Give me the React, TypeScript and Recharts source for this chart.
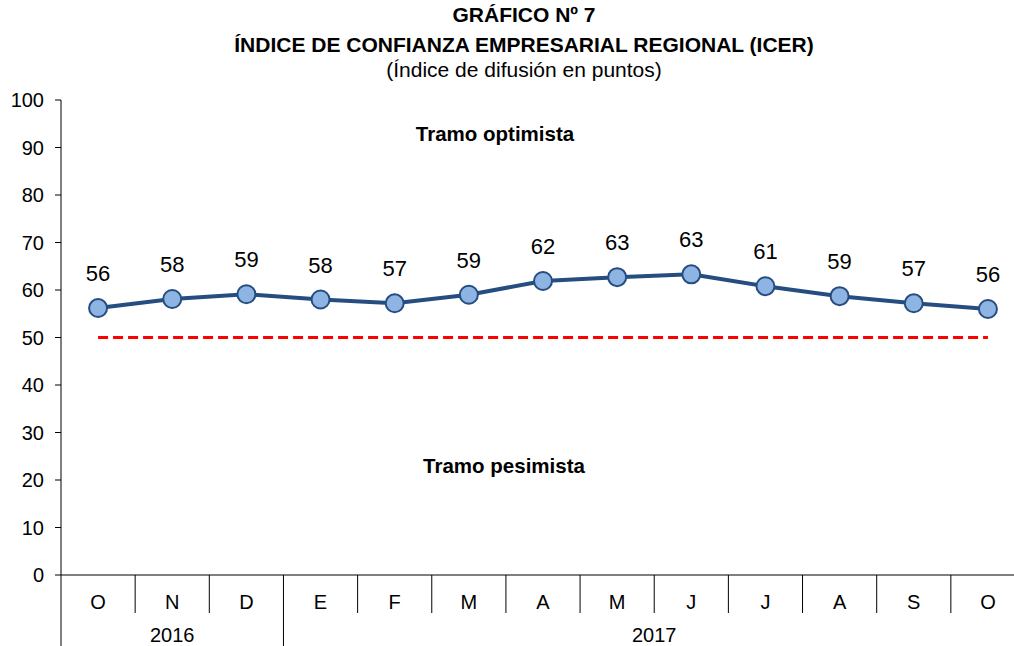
import { LabelList, Line, LineChart, XAxis, YAxis } from 'recharts';

const months = ['O', 'N', 'D', 'E', 'F', 'M', 'A', 'M', 'J', 'J', 'A', 'S', 'O'];
const icerValues = [56.2, 58.1, 59.1, 58.0, 57.2, 59.0, 61.9, 62.7, 63.3, 60.8, 58.7, 57.2, 56.0];
const thresholdValues = [50, 50, 50, 50, 50, 50, 50, 50, 50, 50, 50, 50, 50];
const yTicks = [0, 10, 20, 30, 40, 50, 60, 70, 80, 90, 100];
const years = [
    { label: '2016', start: 0, end: 2 },
    { label: '2017', start: 3, end: 12 },
];

const chartProps = {
    width: 1026,
    height: 646,
    margin: { top: 100, right: 1, left: 0, bottom: 0 },
    yAxisWidth: 61,
    xAxisHeight: 71,
    font: '"Liberation Sans", Arial, sans-serif',
    lineStroke: '#264D80',
    dotFill: '#8EB4E3',
    thresholdStroke: '#FF0000',
};

const data = months.map((month, i) => ({
    month,
    icer: icerValues[i],
    threshold: thresholdValues[i],
}));

const plotWidth = chartProps.width - chartProps.margin.left - chartProps.margin.right - chartProps.yAxisWidth;
// half of one month's slot, used to pad the point scale so points sit mid-slot
const halfBand = plotWidth / months.length / 2;

const MonthTick = (props: any) => {
    const { x, y, payload, index } = props;
    const left = x - halfBand;
    const startsYear = years.some((g) => g.start === index);
    const yearLabels = years.filter((g) => Math.floor((g.start + g.end) / 2) === index);

    return (
        <g>
            <line x1={left} y1={y} x2={left} y2={startsYear ? y + 71 : y + 38} stroke="#000" strokeWidth={1} />
            {index === months.length - 1 && (
                <line x1={x + halfBand} y1={y} x2={x + halfBand} y2={y + 38} stroke="#000" strokeWidth={1} />
            )}
            <text x={x} y={y + 34} textAnchor="middle" fontSize={20} fill="#000" fontFamily={chartProps.font}>
                {payload.value}
            </text>
            {yearLabels.map((g) => (
                <text
                    key={g.label}
                    x={(g.start + g.end) % 2 === 0 ? x : x + halfBand}
                    y={y + 67}
                    textAnchor="middle"
                    fontSize={20}
                    fill="#000"
                    fontFamily={chartProps.font}
                >
                    {g.label}
                </text>
            ))}
        </g>
    );
};

const ValueLabel = (props: any) => {
    const { x, y, value } = props;
    return (
        <text x={x} y={y - 27} textAnchor="middle" fontSize={22} fill="#000" fontFamily={chartProps.font}>
            {Math.round(value)}
        </text>
    );
};

export default function App() {
    const { width, height, margin, yAxisWidth, xAxisHeight, font, lineStroke, dotFill, thresholdStroke } = chartProps;

    return (
        <div
            style={{
                position: 'absolute',
                left: 0,
                top: 0,
                width: 1014,
                height: 646,
                overflow: 'hidden',
                background: '#fff',
                fontFamily: font,
            }}
        >
            <LineChart width={width} height={height} data={data} margin={margin}>
                <XAxis
                    dataKey="month"
                    interval={0}
                    padding={{ left: halfBand, right: halfBand }}
                    height={xAxisHeight}
                    tickSize={0}
                    tickMargin={0}
                    tickLine={false}
                    axisLine={{ stroke: '#000' }}
                    tick={MonthTick}
                />
                <YAxis
                    width={yAxisWidth}
                    domain={[0, 100]}
                    ticks={yTicks}
                    interval={0}
                    tickSize={6}
                    tickMargin={11}
                    axisLine={{ stroke: '#000' }}
                    tickLine={{ stroke: '#000' }}
                    tick={{ fontSize: 20, fill: '#000', fontFamily: font }}
                />
                <Line
                    dataKey="threshold"
                    stroke={thresholdStroke}
                    strokeWidth={3}
                    strokeDasharray="10 5"
                    dot={false}
                    activeDot={false}
                    isAnimationActive={false}
                />
                <Line
                    dataKey="icer"
                    stroke={lineStroke}
                    strokeWidth={4}
                    dot={{ r: 9, fill: dotFill, stroke: lineStroke, strokeWidth: 2 }}
                    activeDot={false}
                    isAnimationActive={false}
                >
                    <LabelList dataKey="icer" content={ValueLabel} />
                </Line>
            </LineChart>
            <svg
                width={1014}
                height={646}
                style={{ position: 'absolute', left: 0, top: 0, pointerEvents: 'none' }}
                fontFamily={font}
            >
                <text x={524} y={22} textAnchor="middle" fontSize={21} fontWeight="bold">
                    GRÁFICO Nº 7
                </text>
                <text x={524} y={52} textAnchor="middle" fontSize={21} fontWeight="bold">
                    ÍNDICE DE CONFIANZA EMPRESARIAL REGIONAL (ICER)
                </text>
                <text x={524} y={77} textAnchor="middle" fontSize={21}>
                    (Índice de difusión en puntos)
                </text>
                <text x={495} y={141} textAnchor="middle" fontSize={20.5} fontWeight="bold">
                    Tramo optimista
                </text>
                <text x={504} y={473} textAnchor="middle" fontSize={20.5} fontWeight="bold">
                    Tramo pesimista
                </text>
            </svg>
        </div>
    );
}
